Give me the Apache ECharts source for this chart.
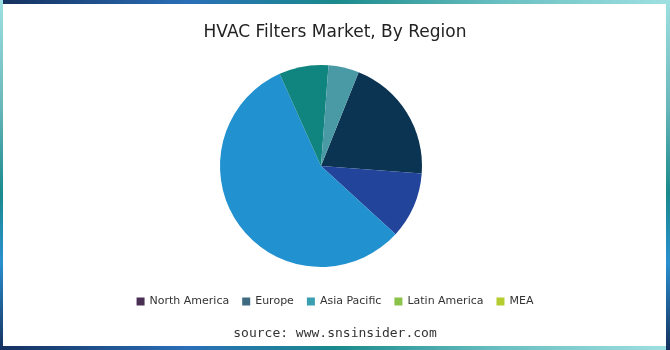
<!DOCTYPE html>
<html>
<head>
<meta charset="utf-8">
<script src="https://cdn.jsdelivr.net/npm/echarts@6/dist/echarts.min.js"></script>
<style>html,body{margin:0;padding:0;background:#fff}#c{width:670px;height:350px}</style>
</head>
<body>
<div id="c"></div>
<script>
var categories = ['North America', 'Europe', 'Asia Pacific', 'Latin America', 'MEA'];
var shares = [20.1, 10.6, 56.5, 7.9, 4.9];
var sliceColors = ['#0b3352', '#23449b', '#2191d0', '#10847f', '#4a9aa5'];
var legendColors = ['#4a2f55', '#3e6b80', '#3a9fb0', '#8bc34a', '#b5cd2e'];
var titleText = 'HVAC Filters Market, By Region';
var sourceText = 'source: www.snsinsider.com';

var chart = echarts.init(document.getElementById('c'), null, {renderer: 'canvas'});
var hGrad = {type: 'linear', x: 0, y: 0, x2: 1, y2: 0, colorStops: [
  {offset: 0, color: '#15305e'}, {offset: 0.28, color: '#2a6fb8'},
  {offset: 0.5, color: '#1a8a8c'}, {offset: 0.75, color: '#6ac0c2'}, {offset: 1, color: '#9fe0e2'}]};
var vGrad = {type: 'linear', x: 0, y: 0, x2: 0, y2: 1, colorStops: [
  {offset: 0, color: '#9fe0e2'}, {offset: 0.3, color: '#6ab8bc'},
  {offset: 0.55, color: '#1a8a8c'}, {offset: 0.75, color: '#2a8fd0'}, {offset: 1, color: '#15305e'}]};

chart.setOption({
  backgroundColor: '#ffffff',
  animation: false,
  title: {
    text: titleText, left: 'center', top: 19,
    textStyle: {fontFamily: 'DejaVu Sans', fontSize: 17, fontWeight: 'normal', color: '#222'}
  },
  legend: {
    top: 291, left: 'center', itemWidth: 8, itemHeight: 8, itemGap: 13, icon: 'rect',
    textStyle: {fontFamily: 'DejaVu Sans', fontSize: 11, color: '#333'},
    data: categories.map(function (n, i) { return {name: n, itemStyle: {color: legendColors[i]}}; })
  },
  graphic: [
    {type: 'rect', left: 0, top: 0, shape: {width: 670, height: 4}, style: {fill: hGrad}, silent: true},
    {type: 'rect', left: 0, top: 346, shape: {width: 670, height: 4}, style: {fill: hGrad}, silent: true},
    {type: 'rect', left: 0, top: 0, shape: {width: 3, height: 350}, style: {fill: vGrad}, silent: true},
    {type: 'rect', left: 666, top: 0, shape: {width: 4, height: 350}, style: {fill: vGrad}, silent: true},
    {type: 'text', left: 'center', top: 327, style: {text: sourceText, fontFamily: 'DejaVu Sans Mono', fontSize: 13, fill: '#333'}}
  ],
  series: [{
    type: 'pie',
    center: [321, 166],
    radius: [0, 101],
    startAngle: 68.1,
    clockwise: true,
    label: {show: false},
    labelLine: {show: false},
    itemStyle: {borderWidth: 0},
    data: categories.map(function (n, i) { return {name: n, value: shares[i], itemStyle: {color: sliceColors[i]}}; })
  }]
});
</script>
</body>
</html>
